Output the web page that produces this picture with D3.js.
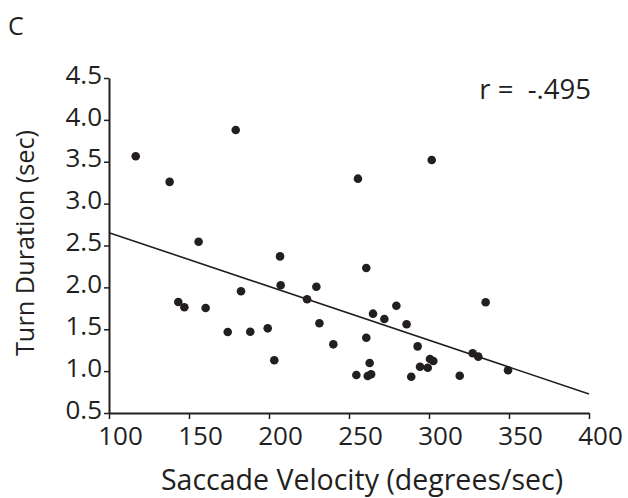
<!DOCTYPE html>
<html><head><meta charset="utf-8">
<script src="https://cdn.jsdelivr.net/npm/d3@7"></script>
<style>body{margin:0;background:#fff}svg{display:block}text{font-family:"Open Sans",sans-serif;fill:#231f20}</style>
</head><body><div id="chart"></div>
<script>
const velocity = [116.7,137.9,179.2,156.0,206.9,143.3,147.1,160.4,174.2,182.5,188.3,199.2,203.3,207.3,223.8,229.6,231.5,240.2,260.8,265.0,272.1,279.6,286.0,260.8,292.9,262.9,254.6,261.7,263.8,288.9,294.4,299.2,300.6,302.7,319.2,327.3,330.8,335.4,349.4,255.6,301.7];
const duration = [3.565,3.26,3.88,2.545,2.37,1.825,1.762,1.754,1.467,1.953,1.471,1.511,1.129,2.025,1.858,2.008,1.571,1.32,2.231,1.686,1.622,1.781,1.559,1.399,1.296,1.097,0.954,0.942,0.962,0.933,1.053,1.041,1.145,1.121,0.945,1.213,1.173,1.822,1.01,3.298,3.521];
const fitX = [100, 400];
const fitY = [2.653, 0.727];
const xTicks = [100,150,200,250,300,350,400];
const yTicks = [0.5,1.0,1.5,2.0,2.5,3.0,3.5,4.0,4.5];
const panelLabel = "C";
const rLabel = "r =  -.495";
const xTitle = "Saccade Velocity (degrees/sec)";
const yTitle = "Turn Duration (sec)";

const W = 628, H = 498;
const svg = d3.select("#chart").append("svg").attr("width", W).attr("height", H);
const x = d3.scaleLinear().domain([100, 400]).range([109, 589]);
const y = d3.scaleLinear().domain([0.5, 4.5]).range([413, 78]);

const xAxis = svg.append("g").attr("transform", `translate(0,${y(0.5)})`)
  .call(d3.axisBottom(x).tickValues(xTicks).tickSize(6).tickPadding(8).tickSizeOuter(0).tickFormat(d3.format("d")));
const yAxis = svg.append("g").attr("transform", `translate(${x(100)},0)`)
  .call(d3.axisLeft(y).tickValues(yTicks).tickSize(5).tickPadding(2).tickSizeOuter(0).tickFormat(d3.format(".1f")));
[xAxis, yAxis].forEach(g => {
  g.select(".domain").attr("stroke", "#231f20").attr("stroke-width", 2);
  g.selectAll(".tick line").attr("stroke", "#231f20").attr("stroke-width", 1.5);
  g.selectAll(".tick text").attr("font-size", 26).attr("font-family", "Open Sans").attr("fill", "#231f20");
});
xAxis.selectAll(".tick text").attr("dx", 11);
yAxis.selectAll(".tick text").attr("dy", "0.2em");

svg.append("line")
  .attr("x1", x(fitX[0])).attr("y1", y(fitY[0]))
  .attr("x2", x(fitX[1])).attr("y2", y(fitY[1]))
  .attr("stroke", "#231f20").attr("stroke-width", 1.6);

svg.append("g").selectAll("circle").data(velocity.map((v, i) => [v, duration[i]]))
  .join("circle")
  .attr("cx", d => x(d[0])).attr("cy", d => y(d[1])).attr("r", 4.3)
  .attr("fill", "#231f20");

svg.append("text").attr("x", 8).attr("y", 35).attr("font-size", 25).text(panelLabel);
svg.append("text").attr("x", 591).attr("y", 99).attr("text-anchor", "end").attr("font-size", 27.5)
  .style("white-space", "pre").text(rLabel);
svg.append("text").attr("x", 362).attr("y", 490).attr("text-anchor", "middle").attr("font-size", 28.5).text(xTitle);
svg.append("text").attr("transform", "translate(33.5,243) rotate(-90)").attr("text-anchor", "middle").attr("font-size", 25.3).text(yTitle);
</script></body></html>
